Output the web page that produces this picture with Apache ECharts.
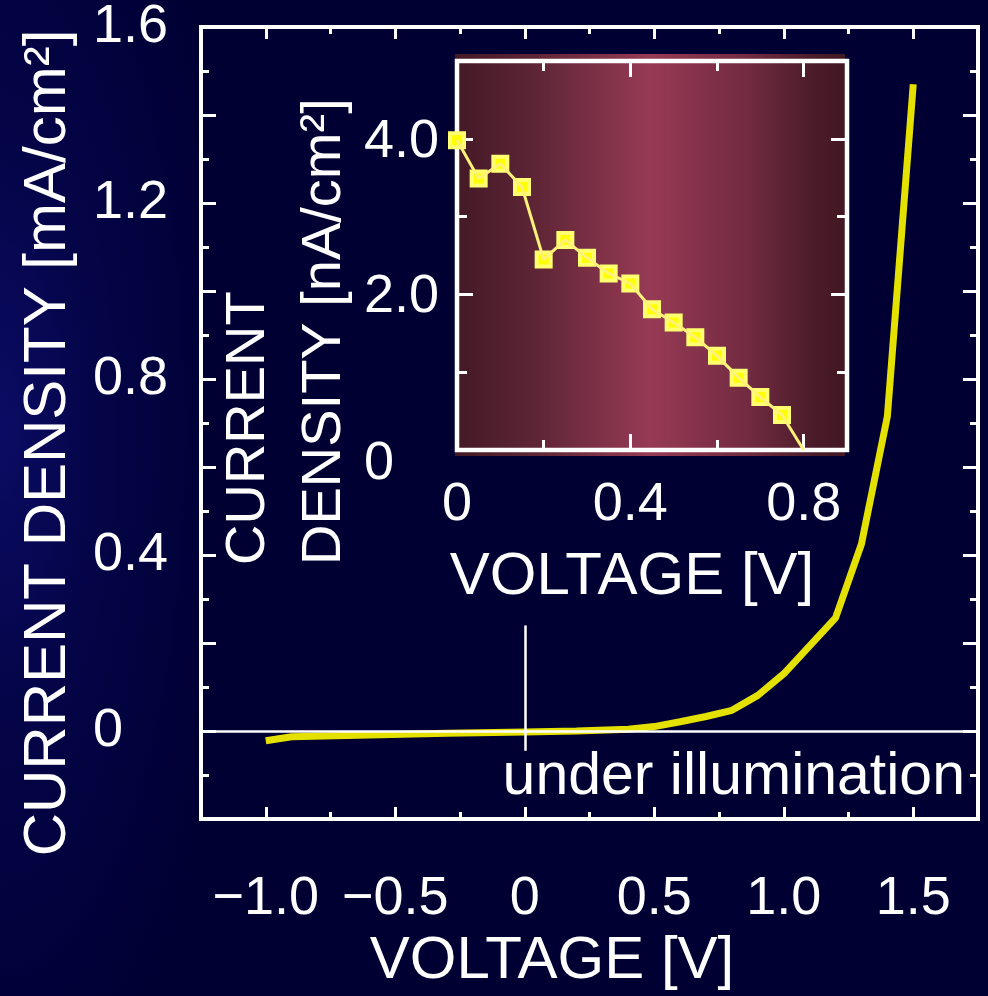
<!DOCTYPE html>
<html>
<head>
<meta charset="utf-8">
<script src="https://cdn.jsdelivr.net/npm/echarts@6/dist/echarts.min.js"></script>
<style>
  html, body { margin: 0; padding: 0; width: 988px; height: 996px; overflow: hidden; }
  body {
    background-color: #000033;
    background-image: radial-gradient(ellipse 240px 700px at 0px 430px, rgba(14,14,112,0.8) 0%, rgba(8,8,90,0.55) 40%, rgba(0,0,51,0) 100%);
  }
  #chart { width: 988px; height: 996px; }
</style>
</head>
<body>
<div id="chart"></div>
<script>
// Current density vs. voltage under illumination (main panel, mA/cm2)
const voltage = [-1.0, -0.9, -0.6, -0.3, 0.0, 0.2, 0.4, 0.5, 0.6, 0.7, 0.8, 0.9, 1.0, 1.2, 1.3, 1.4, 1.5];
const currentDensity = [-0.022, -0.013, -0.009, -0.005, -0.002, 0.0, 0.004, 0.010, 0.021, 0.033, 0.047, 0.081, 0.13, 0.257, 0.425, 0.715, 1.47];

// Low-voltage detail (inset, nA/cm2); the last point is where the trace meets zero
const insetVoltage = [0, 0.05, 0.10, 0.15, 0.20, 0.25, 0.30, 0.35, 0.40, 0.45, 0.50, 0.55, 0.60, 0.65, 0.70, 0.75, 0.80];
const insetCurrent = [3.98, 3.49, 3.68, 3.38, 2.45, 2.70, 2.47, 2.27, 2.14, 1.81, 1.64, 1.45, 1.21, 0.93, 0.68, 0.45, 0.0];

// Tick values and labels
const xTickValues = [-1.0, -0.5, 0, 0.5, 1.0, 1.5];
const xTickLabels = ['\u22121.0', '\u22120.5', '0', '0.5', '1.0', '1.5'];
const yTickValues = [0, 0.4, 0.8, 1.2, 1.6];
const yTickLabels = ['0', '0.4', '0.8', '1.2', '1.6'];
const insetXTickValues = [0, 0.4, 0.8];
const insetXTickLabels = ['0', '0.4', '0.8'];
const insetYTickValues = [0, 2, 4];
const insetYTickLabels = ['{low|0}', '2.0', '4.0'];

const NUMFONT = '"Liberation Sans", Arial, sans-serif';
const SANS = '"Liberation Sans", Arial, sans-serif';

function pickLabel(values, labels) {
  return function (v) {
    for (let i = 0; i < values.length; i++) {
      if (Math.abs(v - values[i]) < 1e-6) return labels[i];
    }
    return '';
  };
}

// One axis per tick length; the frame itself comes from the grid border
function tickAxis(gridIndex, position, min, max, interval, len, extra) {
  return Object.assign({
    type: 'value',
    gridIndex: gridIndex,
    position: position,
    min: min,
    max: max,
    interval: interval,
    z: gridIndex === 1 ? 5 : 1,
    axisLine: { show: false, onZero: false },
    axisTick: { show: true, inside: true, length: len, lineStyle: { color: '#ffffff', width: 3 } },
    axisLabel: { show: false },
    splitLine: { show: false }
  }, extra || {});
}

const numLabel = (margin, formatter, more) => Object.assign({
  show: true, margin: margin, color: '#ffffff', fontSize: 54, fontFamily: NUMFONT,
  formatter: formatter, showMinLabel: true, showMaxLabel: true, hideOverlap: false
}, more || {});

const titleStyle = (padding) => ({ color: '#ffffff', fontSize: 60, fontFamily: SANS, padding: padding });

const mainPairs = voltage.map((v, i) => [v, currentDensity[i]]);
const insetPairs = insetVoltage.map((v, i) => [v, insetCurrent[i]]);

// Major x ticks sit on the labelled voltages
const majorXTick = { show: true, inside: true, length: 12, customValues: xTickValues, lineStyle: { color: '#ffffff', width: 3 } };

const option = {
  backgroundColor: 'transparent',
  animation: false,
  grid: [
    { left: 201, top: 23, width: 777, height: 800, show: true, borderColor: '#ffffff', borderWidth: 4, backgroundColor: '#000033', z: 0 },
    { left: 457, top: 61, width: 390, height: 389, show: true, borderColor: '#ffffff', borderWidth: 4.5, backgroundColor: 'transparent', z: 5 }
  ],
  xAxis: [
    tickAxis(0, 'bottom', -1.25, 1.75, 0.25, 12, {
      axisTick: majorXTick,
      axisLabel: numLabel(53, pickLabel(xTickValues, xTickLabels), { customValues: xTickValues }),
      name: 'VOLTAGE [V]', nameLocation: 'middle', nameGap: 112,
      nameTextStyle: titleStyle([0, 75, 0, 0])
    }),
    tickAxis(0, 'bottom', -1.25, 1.75, 0.25, 7),
    tickAxis(0, 'top', -1.25, 1.75, 0.25, 12, { axisTick: majorXTick }),
    tickAxis(0, 'top', -1.25, 1.75, 0.25, 7),
    tickAxis(1, 'bottom', 0, 0.9, 0.4, 16, {
      axisLabel: numLabel(28, pickLabel(insetXTickValues, insetXTickLabels)),
      name: 'VOLTAGE [V]', nameLocation: 'middle', nameGap: 97,
      nameTextStyle: titleStyle([0, 40, 0, 0])
    }),
    tickAxis(1, 'bottom', 0, 0.9, 0.2, 10),
    tickAxis(1, 'top', 0, 0.9, 0.4, 16),
    tickAxis(1, 'top', 0, 0.9, 0.2, 10)
  ],
  yAxis: [
    tickAxis(0, 'left', -0.2, 1.6, 0.2, 15, {
      axisLabel: numLabel(108, pickLabel(yTickValues, yTickLabels), { align: 'left', padding: [10, 0, 0, 0] }),
      name: 'CURRENT DENSITY [mA/cm\u00b2]', nameLocation: 'middle', nameGap: 123,
      nameTextStyle: titleStyle([0, 40, 0, 0])
    }),
    tickAxis(0, 'left', -0.2, 1.6, 0.1, 8),
    tickAxis(0, 'right', -0.2, 1.6, 0.2, 15),
    tickAxis(0, 'right', -0.2, 1.6, 0.1, 8),
    tickAxis(1, 'left', 0, 5, 2, 16, {
      axisLabel: numLabel(93, pickLabel(insetYTickValues, insetYTickLabels), {
        align: 'left', padding: [6, 0, 0, 0],
        rich: { low: { fontSize: 54, fontFamily: NUMFONT, color: '#ffffff', padding: [22, 0, 0, 0] } }
      })
    }),
    tickAxis(1, 'left', 0, 5, 1, 10),
    tickAxis(1, 'right', 0, 5, 2, 16),
    tickAxis(1, 'right', 0, 5, 1, 10)
  ],
  graphic: [
    {
      type: 'rect', z: 3, silent: true,
      shape: { x: 455, y: 54, width: 390, height: 402 },
      style: {
        fill: new echarts.graphic.LinearGradient(0, 0, 1, 0, [
          { offset: 0, color: '#441926' },
          { offset: 0.2, color: '#5d2535' },
          { offset: 0.5, color: '#973a55' },
          { offset: 0.75, color: '#722b41' },
          { offset: 0.92, color: '#4a1c29' },
          { offset: 1, color: '#421822' }
        ])
      }
    },
    {
      type: 'text', z: 4, silent: true,
      x: 287, y: 565, rotation: Math.PI / 2,
      style: {
        text: 'CURRENT\nDENSITY [nA/cm\u00b2]',
        fill: '#ffffff', fontSize: 56, fontFamily: SANS,
        align: 'left', verticalAlign: 'middle', lineHeight: 76
      }
    },
    {
      type: 'text', z: 4, silent: true,
      x: 965, y: 778,
      style: {
        text: 'under illumination',
        fill: '#ffffff', fontSize: 59, fontFamily: SANS,
        align: 'right', verticalAlign: 'middle'
      }
    }
  ],
  series: [
    {
      type: 'line', xAxisIndex: 0, yAxisIndex: 0, z: 2,
      data: mainPairs, symbol: 'none', smooth: false,
      lineStyle: { color: '#e4e000', width: 7 },
      markLine: {
        silent: true, symbol: 'none', label: { show: false },
        lineStyle: { color: '#ffffff', width: 2.5, type: 'solid' },
        data: [
          { yAxis: 0 },
          [{ coord: [0, 0.24] }, { coord: [0, -0.045] }]
        ]
      }
    },
    {
      type: 'scatter', xAxisIndex: 4, yAxisIndex: 4, z: 6,
      data: insetPairs.slice(0, -1),
      symbol: 'rect', symbolSize: 14,
      itemStyle: { color: '#ffff00', borderColor: '#ffff70', borderWidth: 4, opacity: 1 }
    },
    {
      type: 'line', xAxisIndex: 4, yAxisIndex: 4, z: 7,
      data: insetPairs, symbol: 'none',
      lineStyle: { color: '#fff27a', width: 3 }
    }
  ]
};

const chart = echarts.init(document.getElementById('chart'));
chart.setOption(option);
</script>
</body>
</html>
